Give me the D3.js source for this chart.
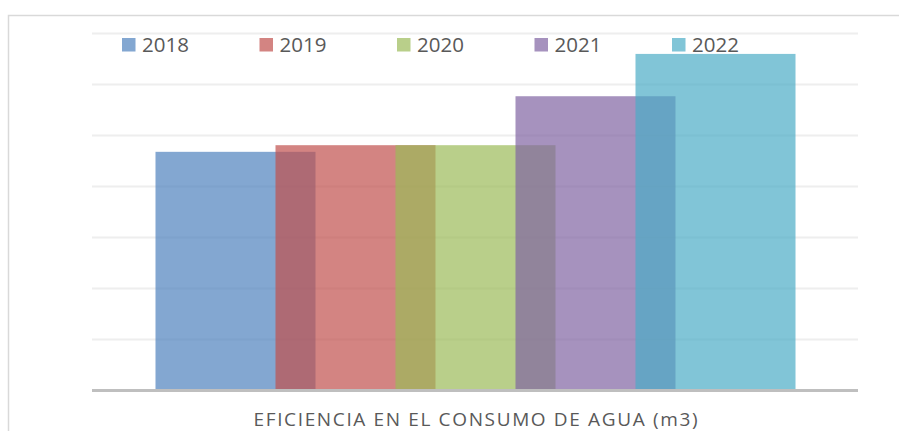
<!DOCTYPE html>
<html>
<head>
<meta charset="utf-8">
<script src="https://cdn.jsdelivr.net/npm/d3@7"></script>
<style>
  html, body { margin: 0; padding: 0; background: #fff; }
  svg { display: block; font-family: "Open Sans", Lato, sans-serif; }
</style>
</head>
<body>
<div id="chart"></div>
<script>
// data (gridlines have no labels, one unit per gridline)
var years = ['2018', '2019', '2020', '2021', '2022'];
var values = [4.67, 4.80, 4.80, 5.76, 6.59];
var colors = ['#4F81BD', '#C0504D', '#9BBB59', '#8064A2', '#4BACC6'];
var yTicks = [0, 1, 2, 3, 4, 5, 6, 7];
var title = 'EFICIENCIA EN EL CONSUMO DE AGUA (m3)';

(function() {
  const width = 899;
  const height = 431;
  const plot = { left: 92, right: 858, top: 33, bottom: 390 };

  var svg = d3.select('#chart')
    .append('svg')
    .attr('width', width)
    .attr('height', height);

  // chart frame (top and left edges visible in the crop)
  svg.append('path')
    .attr('d', 'M8.5,440 V15.5 H899')
    .attr('fill', 'none')
    .attr('stroke', '#d9d9d9')
    .attr('stroke-width', 1.5);

  var y = d3.scaleLinear()
    .domain([0, d3.max(yTicks)])
    .range([plot.bottom, plot.top]);

  // gridlines
  var grid = svg.append('g')
    .attr('transform', 'translate(' + plot.left + ',0)')
    .call(d3.axisLeft(y)
      .tickValues(yTicks.slice(1))
      .tickSize(-(plot.right - plot.left))
      .tickFormat(''));
  grid.select('.domain').remove();
  grid.selectAll('.tick line')
    .attr('stroke', '#eeeeee')
    .attr('stroke-width', 2);

  // series overlap: each bar is 4/3 of the step between series
  var step = 120;
  var barW = step * 4 / 3;
  var groupW = step * (years.length - 1) + barW;
  var cx = (plot.left + plot.right) / 2 + 0.5;
  var x = d3.scaleBand()
    .domain(years)
    .range([cx - groupW / 2, cx - groupW / 2 + step * years.length])
    .padding(0);

  svg.append('g')
    .selectAll('rect')
    .data(years)
    .join('rect')
    .attr('x', d => x(d))
    .attr('y', (d, i) => y(values[i]))
    .attr('width', barW)
    .attr('height', (d, i) => y(0) - y(values[i]))
    .attr('fill', (d, i) => colors[i])
    .attr('fill-opacity', 0.7);

  // category axis
  svg.append('line')
    .attr('x1', plot.left)
    .attr('x2', plot.right)
    .attr('y1', y(0) + 0.5)
    .attr('y2', y(0) + 0.5)
    .attr('stroke', '#bfbfbf')
    .attr('stroke-width', 3);

  // legend
  var legend = svg.append('g')
    .selectAll('g')
    .data(years)
    .join('g')
    .attr('transform', (d, i) => 'translate(' + (122 + i * 137.5) + ',38)');
  legend.append('rect')
    .attr('width', 13.5)
    .attr('height', 13.5)
    .attr('fill', (d, i) => colors[i])
    .attr('fill-opacity', 0.7);
  legend.append('text')
    .attr('x', 20)
    .attr('y', 14.3)
    .attr('font-size', 20.5)
    .attr('fill', '#595959')
    .text(d => d);

  // title under the axis
  svg.append('text')
    .attr('x', 253.5)
    .attr('y', 426)
    .attr('font-size', 19)
    .attr('fill', '#595959')
    .attr('textLength', 444)
    .attr('lengthAdjust', 'spacing')
    .text(title);
}());
</script>
</body>
</html>
